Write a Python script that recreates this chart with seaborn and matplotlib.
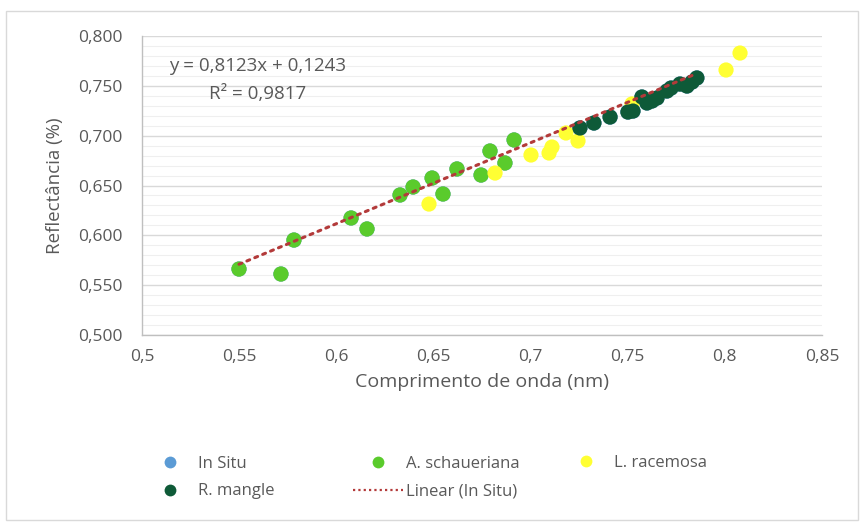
import numpy as np
import pandas as pd
import matplotlib.pyplot as plt
import seaborn as sns
from matplotlib.ticker import MultipleLocator, FuncFormatter
from matplotlib.lines import Line2D
from matplotlib.patches import Rectangle

# data
a_schau_x = [0.5499, 0.5715, 0.5782, 0.6076, 0.6158, 0.6328, 0.6395, 0.6493,
             0.6549, 0.6621, 0.6745, 0.6791, 0.6868, 0.6915]
a_schau_y = [0.5662, 0.5612, 0.5953, 0.6174, 0.6064, 0.6405, 0.6485, 0.6575,
             0.6415, 0.6666, 0.6605, 0.6846, 0.6726, 0.6957]

l_rac_x = [0.6477, 0.6817, 0.7002, 0.7095, 0.7110, 0.7182, 0.7244, 0.7522,
           0.8006, 0.8078]
l_rac_y = [0.6314, 0.6625, 0.6806, 0.6826, 0.6886, 0.7027, 0.6947, 0.7318,
           0.7659, 0.7829]

r_mangle_x = [0.7254, 0.7326, 0.7409, 0.7501, 0.7527, 0.7573, 0.7599, 0.7625,
              0.7651, 0.7702, 0.7723, 0.7769, 0.7805, 0.7831, 0.7856]
r_mangle_y = [0.7077, 0.7127, 0.7187, 0.7237, 0.7247, 0.7388, 0.7328, 0.7348,
              0.7378, 0.7448, 0.7478, 0.7518, 0.7498, 0.7538, 0.7579]

# In Situ points sit underneath the species points
in_situ_x = a_schau_x + r_mangle_x
in_situ_y = a_schau_y + r_mangle_y

slope, intercept = 0.8123, 0.1243
r2 = 0.9817

x_ticks = [0.5, 0.55, 0.6, 0.65, 0.7, 0.75, 0.8, 0.85]
x_tick_labels = ['0,5', '0,55', '0,6', '0,65', '0,7', '0,75', '0,8', '0,85']

sns.set_style('white')
plt.rcParams['font.family'] = ['Open Sans', 'DejaVu Sans']

text_col = '#595959'
c_insitu = '#5B9BD5'
c_schau = '#5ACB2C'
c_rac = '#FFFF33'
c_mangle = '#0E5A38'
c_trend = '#B33A3A'

fig = plt.figure(figsize=(8.64, 5.28), dpi=100)
fig.patches.append(Rectangle((0.007, 0.015), 0.986, 0.965, transform=fig.transFigure,
                             fill=False, edgecolor='#D9D9D9', linewidth=1))
ax = fig.add_axes([0.1644, 0.3655, 0.787, 0.5663])

df = pd.concat([
    pd.DataFrame({'x': in_situ_x, 'y': in_situ_y, 's': 'In Situ'}),
    pd.DataFrame({'x': a_schau_x, 'y': a_schau_y, 's': 'A. schaueriana'}),
    pd.DataFrame({'x': l_rac_x, 'y': l_rac_y, 's': 'L. racemosa'}),
    pd.DataFrame({'x': r_mangle_x, 'y': r_mangle_y, 's': 'R. mangle'}),
])
palette = {'In Situ': c_insitu, 'A. schaueriana': c_schau,
           'L. racemosa': c_rac, 'R. mangle': c_mangle}

sns.scatterplot(data=df, x='x', y='y', hue='s', palette=palette, s=120,
                edgecolor='none', legend=False, ax=ax, zorder=3)

tx = np.array([min(in_situ_x), max(in_situ_x)])
trend = pd.DataFrame({'x': tx, 'y': slope * tx + intercept})
sns.lineplot(data=trend, x='x', y='y', color=c_trend, linestyle=(0, (1, 1.8)),
             linewidth=2.2, dash_capstyle='round', ax=ax, zorder=4)

ax.set_xlim(0.5, 0.85)
ax.set_ylim(0.5, 0.8)
ax.set_xticks(x_ticks)
ax.set_xticklabels(x_tick_labels)
ax.yaxis.set_major_locator(MultipleLocator(0.05))
ax.yaxis.set_minor_locator(MultipleLocator(0.01))
ax.yaxis.set_major_formatter(FuncFormatter(lambda v, p: f'{v:.3f}'.replace('.', ',')))
ax.grid(axis='y', which='major', color='#D9D9D9', linewidth=1)
ax.grid(axis='y', which='minor', color='#EFEFEF', linewidth=0.8)
ax.grid(axis='x', visible=False)
ax.set_axisbelow(True)

for sp in ['top', 'right']:
    ax.spines[sp].set_visible(False)
for sp in ['left', 'bottom']:
    ax.spines[sp].set_color('#BFBFBF')
    ax.spines[sp].set_linewidth(1)

ax.tick_params(axis='both', which='major', direction='out', length=5, width=1,
               color='#BFBFBF', labelcolor=text_col, labelsize=12.5, pad=5)
ax.tick_params(axis='y', which='major', pad=9)
ax.tick_params(axis='y', which='minor', length=0)

ax.set_xlabel('Comprimento de onda (nm)', color=text_col, fontsize=14, labelpad=6)
ax.set_ylabel('Reflectância (%)', color=text_col, fontsize=13.5, labelpad=10)

ax.text(0.1695, 0.93, f'y = {slope:.4f}x + {intercept:.4f}'.replace('.', ',')
        + '\n' + f'R² = {r2:.4f}'.replace('.', ','),
        transform=ax.transAxes, ha='center', va='top', fontsize=13.5,
        color=text_col, linespacing=1.75)

def mk(c):
    return Line2D([], [], marker='o', linestyle='none', markersize=8.5,
                  markerfacecolor=c, markeredgecolor='none')

trend_handle = Line2D([], [], color=c_trend, linestyle=(0, (1, 1.4)), linewidth=1.6)
legend_cols = [
    ([mk(c_insitu), mk(c_mangle)], ['In Situ', 'R. mangle'], 145),
    ([mk(c_schau), trend_handle], ['A. schaueriana', 'Linear (In Situ)'], 353),
    ([mk(c_rac)], ['L. racemosa'], 561),
]
for hs, ls, x0 in legend_cols:
    y_anchor = 1 - 463 / 528 if len(hs) == 1 else 1 - 477.5 / 528
    fig.legend(hs, ls, ncol=1, loc='center left', bbox_to_anchor=(x0 / 864, y_anchor),
               frameon=False, fontsize=12, labelcolor=text_col, handlelength=3.0,
               handletextpad=0.15, labelspacing=0.7, borderpad=0, borderaxespad=0)

fig.savefig('out.png', dpi=100)
